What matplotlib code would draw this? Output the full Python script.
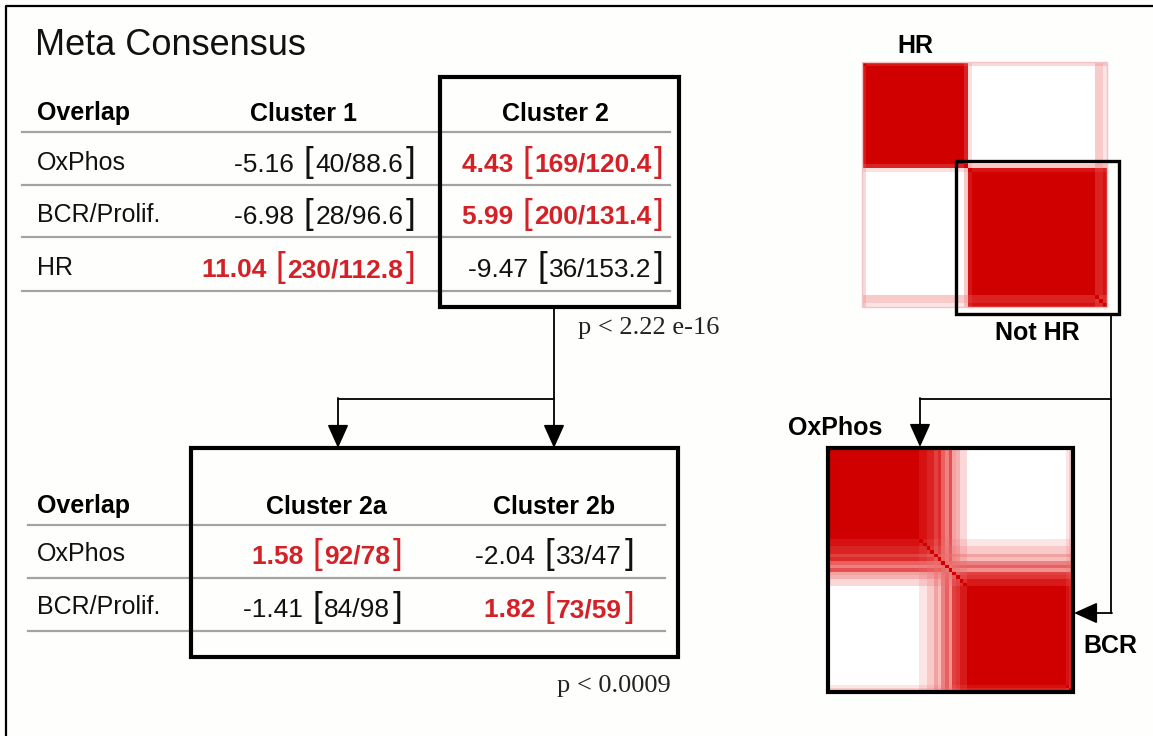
import numpy as np
import matplotlib.pyplot as plt
from matplotlib.patches import Rectangle
from matplotlib.colors import LinearSegmentedColormap

plt.rcParams['font.family'] = ['Liberation Sans', 'DejaVu Sans']

# ---- table data ----
rows_top = ["OxPhos", "BCR/Prolif.", "HR"]
cols_top = ["Cluster 1", "Cluster 2"]
z_top = [[-5.16, 4.43], [-6.98, 5.99], [11.04, -9.47]]
obs_top = [[40, 169], [28, 200], [230, 36]]
exp_top = [["88.6", "120.4"], ["96.6", "131.4"], ["112.8", "153.2"]]

rows_bot = ["OxPhos", "BCR/Prolif."]
cols_bot = ["Cluster 2a", "Cluster 2b"]
z_bot = [[1.58, -2.04], [-1.41, 1.82]]
obs_bot = [[92, 33], [84, 73]]
exp_bot = [["78", "47"], ["98", "59"]]

p_top = "p < 2.22 e-16"
p_bot = "p < 0.0009"

# consensus heatmaps: (number of samples, membership in first cluster)
hm1_blocks = [(1, 0.85), (24, 1.0), (1, 0.8), (1, 0.12), (30, 0.0), (2, 0.2), (1, 0.1)]
hm2_blocks = [(25, 1.0), (2, 0.9), (2, 0.8), (1, 0.65), (1, 0.75), (1, 0.55),
              (1, 0.45), (1, 0.6), (1, 0.35), (1, 0.3), (2, 0.15), (27, 0.0),
              (1, 0.1), (1, 0.2)]

RED = '#d42027'
GRAY = '#a3a3a3'


def consensus(blocks):
    p = np.repeat([b[1] for b in blocks], [b[0] for b in blocks])
    m = np.outer(p, p) + np.outer(1 - p, 1 - p)
    np.fill_diagonal(m, 1.0)
    return m


fig = plt.figure(figsize=(11.53, 7.36), dpi=100, facecolor='#fefefc')
ax = fig.add_axes([0, 0, 1, 1])
ax.set_xlim(0, 1153)
ax.set_ylim(736, 0)
ax.axis('off')
renderer = fig.canvas.get_renderer()


def cell(x_right, y, z, obs, exp, red):
    color = RED if red else '#111111'
    weight = 'bold' if red else 'normal'
    pieces = [("%.2f " % z, 19, weight), ("[", 25, 'normal'),
              ("%d/%s" % (obs, exp), 19, weight), ("]", 25, 'normal')]
    texts = []
    for s, size, w in pieces:
        texts.append(ax.text(0, y, s, fontsize=size, color=color, fontweight=w,
                             va='baseline', ha='left'))
    widths = [t.get_window_extent(renderer).width for t in texts]
    gap = 2
    x = x_right - sum(widths) - gap * (len(widths) - 1)
    for t, w in zip(texts, widths):
        t.set_x(x)
        x += w + gap


# outer frame
ax.plot([6, 6, 1153], [736, 6, 6], color='k', lw=1.6)

ax.text(35, 55, "Meta Consensus", fontsize=26, color='#111111', va='baseline')

# ---- top table ----
ax.text(37, 120, "Overlap", fontsize=18, fontweight='bold', va='baseline')
for name, xc in zip(cols_top, [304, 555]):
    ax.text(xc, 121, name, fontsize=18, fontweight='bold', va='baseline', ha='center')
for yl in [132, 185, 237, 291]:
    ax.plot([22, 670], [yl, yl], color=GRAY, lw=1.6, zorder=1)
for i, r in enumerate(rows_top):
    yb = [170, 222, 275][i]
    ax.text(37, yb, r, fontsize=18, va='baseline', color='#111111')
    for j, xr in enumerate([415, 663]):
        cell(xr, yb + 2, z_top[i][j], obs_top[i][j], exp_top[i][j], z_top[i][j] > 0)
ax.add_patch(Rectangle((440, 77), 239, 230, fill=False, ec='k', lw=3, zorder=3))
ax.text(578, 334, p_top, fontsize=19, family='Liberation Serif', va='baseline', color='#222222')

# tree arrows
ax.plot([554, 554], [307, 399], color='k', lw=1.3)
ax.plot([338, 554], [399, 399], color='k', lw=1.3)
arrow = dict(arrowstyle='-|>,head_length=0.6,head_width=0.27', mutation_scale=24,
             color='k', lw=1.3, shrinkA=0, shrinkB=0)
for xa in [338, 554]:
    ax.annotate('', xy=(xa, 448), xytext=(xa, 398), arrowprops=arrow)

# ---- bottom table ----
ax.add_patch(Rectangle((191, 448), 487, 209, fill=False, ec='k', lw=3, zorder=3))
ax.text(37, 513, "Overlap", fontsize=18, fontweight='bold', va='baseline')
for name, xc in zip(cols_bot, [326, 554]):
    ax.text(xc, 514, name, fontsize=18, fontweight='bold', va='baseline', ha='center')
for yl in [525, 578, 631]:
    ax.plot([28, 665], [yl, yl], color=GRAY, lw=1.6, zorder=1)
for i, r in enumerate(rows_bot):
    yb = [561, 614][i]
    ax.text(37, yb, r, fontsize=18, va='baseline', color='#111111')
    for j, xr in enumerate([402, 634]):
        cell(xr, yb + 3, z_bot[i][j], obs_bot[i][j], exp_bot[i][j], z_bot[i][j] > 0)
ax.text(557, 692, p_bot, fontsize=19, family='Liberation Serif', va='baseline', color='#222222')

# ---- heatmaps ----
cmap = LinearSegmentedColormap.from_list('wr', ['#ffffff', '#f4a8a8', '#e23a3a', '#d10000'])
ax.imshow(consensus(hm1_blocks), cmap=cmap, vmin=0, vmax=1, extent=(862, 1107, 307, 62),
          origin='upper', interpolation='nearest', aspect='auto', zorder=2)
ax.add_patch(Rectangle((862, 62), 245, 245, fill=False, ec='#f3c4c4', lw=1, zorder=3))
ax.add_patch(Rectangle((956, 161), 163, 153, fill=False, ec='k', lw=2.4, zorder=4))
ax.text(915, 53, "HR", fontsize=18, fontweight='bold', ha='center', va='baseline')
ax.text(1037, 340, "Not HR", fontsize=18, fontweight='bold', ha='center', va='baseline')

ax.imshow(consensus(hm2_blocks), cmap=cmap, vmin=0, vmax=1, extent=(828, 1073, 692, 448),
          origin='upper', interpolation='nearest', aspect='auto', zorder=2)
ax.add_patch(Rectangle((828, 448), 245, 244, fill=False, ec='k', lw=3, zorder=4))
ax.text(788, 435, "OxPhos", fontsize=18, fontweight='bold', va='baseline')
ax.text(1083, 653, "BCR", fontsize=18, fontweight='bold', va='baseline')

ax.plot([1111, 1111], [314, 613], color='k', lw=1.3)
ax.plot([920, 1111], [399, 399], color='k', lw=1.3)
ax.annotate('', xy=(920, 447), xytext=(920, 398), arrowprops=arrow)
ax.annotate('', xy=(1074, 613), xytext=(1112, 613), arrowprops=arrow)

fig.savefig('out.png', dpi=100, facecolor=fig.get_facecolor())
